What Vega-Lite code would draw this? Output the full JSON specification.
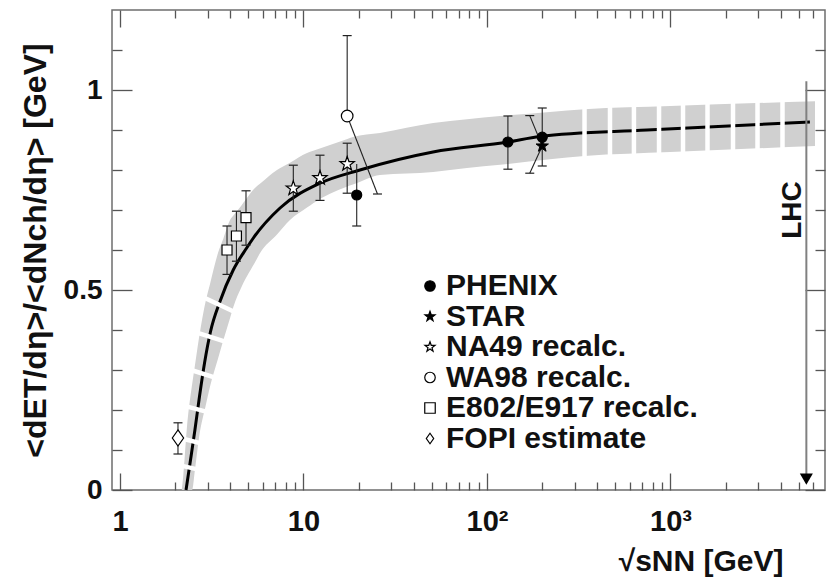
{
  "$schema": "https://vega.github.io/schema/vega-lite/v6.json",
  "width": 713,
  "height": 480,
  "autosize": "none",
  "padding": {"left": 112, "top": 10, "right": 5, "bottom": 98},
  "background": "white",
  "config": {
    "view": {"stroke": "#6e6e6e", "strokeWidth": 1.5},
    "font": "Liberation Sans",
    "axis": {
      "domain": false,
      "grid": false,
      "tickColor": "#555555",
      "tickWidth": 1.3,
      "labelFont": "Liberation Sans",
      "labelFontWeight": "bold",
      "labelColor": "#111111",
      "titleFont": "Liberation Sans",
      "titleFontWeight": "bold",
      "titleColor": "#111111"
    },
    "legend": {
      "orient": "none", "legendX": 303, "legendY": 261, "title": null,
      "labelFontSize": 30, "labelFontWeight": "bold", "labelFont": "Liberation Sans", "labelColor": "#111111",
      "labelLimit": 500, "symbolSize": 110, "symbolStrokeWidth": 1.2,
      "rowPadding": 0.5, "labelOffset": 1
    }
  },
  "datasets": {
    "band": [
      {"x": 2.17, "lo": 0, "hi": 0},
      {"x": 2.21, "lo": 0, "hi": 0.033},
      {"x": 2.31, "lo": 0, "hi": 0.15},
      {"x": 2.46, "lo": 0, "hi": 0.2575},
      {"x": 2.47, "lo": 0, "hi": 0.263},
      {"x": 2.56, "lo": 0.05, "hi": 0.311},
      {"x": 2.7, "lo": 0.133, "hi": 0.3825},
      {"x": 2.94, "lo": 0.214, "hi": 0.475},
      {"x": 3.09, "lo": 0.2575, "hi": 0.514},
      {"x": 3.42, "lo": 0.328, "hi": 0.5925},
      {"x": 3.66, "lo": 0.375, "hi": 0.629},
      {"x": 3.98, "lo": 0.43, "hi": 0.675},
      {"x": 4.15, "lo": 0.458, "hi": 0.686},
      {"x": 4.6, "lo": 0.508, "hi": 0.712},
      {"x": 5.51, "lo": 0.574, "hi": 0.7575},
      {"x": 5.79, "lo": 0.592, "hi": 0.7655},
      {"x": 7.17, "lo": 0.639, "hi": 0.8},
      {"x": 8.44, "lo": 0.675, "hi": 0.818},
      {"x": 10.45, "lo": 0.706, "hi": 0.8425},
      {"x": 11.3, "lo": 0.717, "hi": 0.848},
      {"x": 17.2, "lo": 0.758, "hi": 0.877},
      {"x": 18.6, "lo": 0.7635, "hi": 0.8825},
      {"x": 26.1, "lo": 0.7875, "hi": 0.8925},
      {"x": 50.9, "lo": 0.795, "hi": 0.9175},
      {"x": 77.8, "lo": 0.805, "hi": 0.927},
      {"x": 118, "lo": 0.813, "hi": 0.935},
      {"x": 220, "lo": 0.827, "hi": 0.945},
      {"x": 340, "lo": 0.835, "hi": 0.952},
      {"x": 1000, "lo": 0.845, "hi": 0.96},
      {"x": 6130, "lo": 0.86, "hi": 0.972}
    ],
    "curve": [
      {"x": 2.29, "y": 0},
      {"x": 2.41, "y": 0.068},
      {"x": 2.56, "y": 0.15},
      {"x": 2.71, "y": 0.233},
      {"x": 2.89, "y": 0.318},
      {"x": 3.11, "y": 0.395},
      {"x": 3.51, "y": 0.472},
      {"x": 4.14, "y": 0.55},
      {"x": 4.9, "y": 0.605},
      {"x": 5.33, "y": 0.63},
      {"x": 7.45, "y": 0.705},
      {"x": 12.3, "y": 0.767},
      {"x": 20.3, "y": 0.8},
      {"x": 50.8, "y": 0.845},
      {"x": 130, "y": 0.87},
      {"x": 194, "y": 0.884},
      {"x": 745, "y": 0.9},
      {"x": 5750, "y": 0.92}
    ],
    "gaps": [
      {"x": 2.9, "y": 0.48, "x2": 4.3, "y2": 0.443},
      {"x": 2.6, "y": 0.394, "x2": 4.05, "y2": 0.366},
      {"x": 2.44, "y": 0.3, "x2": 3.4, "y2": 0.279},
      {"x": 2.3, "y": 0.209, "x2": 3.05, "y2": 0.194},
      {"x": 2.26, "y": 0.127, "x2": 2.8, "y2": 0.116},
      {"x": 2.15, "y": 0.061, "x2": 2.68, "y2": 0.051},
      {"x": 340, "y": 0.78, "x2": 340, "y2": 1.0},
      {"x": 468, "y": 0.78, "x2": 468, "y2": 1.0},
      {"x": 632, "y": 0.78, "x2": 632, "y2": 1.0},
      {"x": 866, "y": 0.78, "x2": 866, "y2": 1.0},
      {"x": 1170, "y": 0.78, "x2": 1170, "y2": 1.0},
      {"x": 1591, "y": 0.78, "x2": 1591, "y2": 1.0},
      {"x": 2191, "y": 0.78, "x2": 2191, "y2": 1.0},
      {"x": 2980, "y": 0.78, "x2": 2980, "y2": 1.0},
      {"x": 4077, "y": 0.78, "x2": 4077, "y2": 1.0}
    ],
    "lhc": [
      {"x": 5500, "top": 1.022, "bottom": 0.035, "tri": 0.027, "ytext": 0.7, "label": "LHC"}
    ],
    "errs": [
      {"x": 130, "y": 0.802, "x2": 130, "y2": 0.935},
      {"x": 200, "y": 0.81, "x2": 200, "y2": 0.955},
      {"x": 19.5, "y": 0.66, "x2": 19.5, "y2": 0.815},
      {"x": 200, "y": 0.86, "x2": 171, "y2": 0.936},
      {"x": 200, "y": 0.86, "x2": 171, "y2": 0.792},
      {"x": 17.3, "y": 0.935, "x2": 17.3, "y2": 1.136},
      {"x": 17.3, "y": 0.935, "x2": 25.3, "y2": 0.74},
      {"x": 8.8, "y": 0.697, "x2": 8.8, "y2": 0.812},
      {"x": 12.3, "y": 0.724, "x2": 12.3, "y2": 0.837},
      {"x": 17.3, "y": 0.742, "x2": 17.3, "y2": 0.867},
      {"x": 3.83, "y": 0.539, "x2": 3.83, "y2": 0.66},
      {"x": 4.31, "y": 0.572, "x2": 4.31, "y2": 0.697},
      {"x": 4.86, "y": 0.612, "x2": 4.86, "y2": 0.748},
      {"x": 2.07, "y": 0.09, "x2": 2.07, "y2": 0.168}
    ],
    "caps": [
      {"x": 130, "y": 0.802}, {"x": 130, "y": 0.935},
      {"x": 200, "y": 0.81}, {"x": 200, "y": 0.955},
      {"x": 19.5, "y": 0.66},
      {"x": 171, "y": 0.936}, {"x": 171, "y": 0.792},
      {"x": 17.3, "y": 1.136}, {"x": 25.3, "y": 0.74},
      {"x": 8.8, "y": 0.697}, {"x": 8.8, "y": 0.812},
      {"x": 12.3, "y": 0.724}, {"x": 12.3, "y": 0.837},
      {"x": 17.3, "y": 0.742}, {"x": 17.3, "y": 0.867},
      {"x": 3.83, "y": 0.539}, {"x": 3.83, "y": 0.66},
      {"x": 4.31, "y": 0.572}, {"x": 4.31, "y": 0.697},
      {"x": 4.86, "y": 0.612}, {"x": 4.86, "y": 0.748},
      {"x": 2.07, "y": 0.09}, {"x": 2.07, "y": 0.168}
    ],
    "points": [
      {"series": "PHENIX", "x": 130, "y": 0.87},
      {"series": "PHENIX", "x": 200, "y": 0.882},
      {"series": "PHENIX", "x": 19.5, "y": 0.7375},
      {"series": "STAR", "x": 200, "y": 0.86},
      {"series": "NA49 recalc.", "x": 8.8, "y": 0.754},
      {"series": "NA49 recalc.", "x": 12.3, "y": 0.78},
      {"series": "NA49 recalc.", "x": 17.3, "y": 0.815},
      {"series": "WA98 recalc.", "x": 17.3, "y": 0.935},
      {"series": "E802/E917 recalc.", "x": 3.83, "y": 0.6},
      {"series": "E802/E917 recalc.", "x": 4.31, "y": 0.635},
      {"series": "E802/E917 recalc.", "x": 4.86, "y": 0.681},
      {"series": "FOPI estimate", "x": 2.07, "y": 0.13}
    ]
  },
  "resolve": {"axis": {"x": "independent", "y": "independent"}},
  "layer": [
    {
      "data": {"name": "band"},
      "mark": {"type": "area", "color": "#d0d0d0", "interpolate": "monotone"},
      "encoding": {
        "x": {
          "field": "x", "type": "quantitative",
          "scale": {"type": "log", "domain": [0.9045, 6950], "nice": false},
          "axis": {
            "orient": "bottom",
            "values": [1, 2, 3, 4, 5, 6, 7, 8, 9, 10, 20, 30, 40, 50, 60, 70, 80, 90, 100, 200, 300, 400, 500, 600, 700, 800, 900, 1000, 2000, 3000, 4000, 5000, 6000],
            "labelExpr": "datum.value == 1 ? '1' : datum.value == 10 ? '10' : datum.value == 100 ? '10²' : datum.value == 1000 ? '10³' : ''",
            "tickSize": {"condition": {"test": "datum.value == 1 || datum.value == 10 || datum.value == 100 || datum.value == 1000", "value": -17}, "value": -8},
            "labelFontSize": 29,
            "labelBaseline": "alphabetic",
            "labelPadding": 57,
            "labelFlush": false,
            "labelOverlap": false,
            "title": "√sNN [GeV]",
            "titleFontSize": 30,
            "titleX": 671,
            "titleY": 80,
            "titleAlign": "right",
            "titleBaseline": "alphabetic"
          }
        },
        "y": {
          "field": "lo", "type": "quantitative",
          "scale": {"domain": [0, 1.2], "nice": false, "zero": false},
          "axis": {
            "orient": "left",
            "values": [0, 0.1, 0.2, 0.3, 0.4, 0.5, 0.6, 0.7, 0.8, 0.9, 1, 1.1],
            "labelExpr": "datum.value == 0 ? '0' : datum.value == 0.5 ? '0.5' : datum.value == 1 ? '1' : ''",
            "tickSize": {"condition": {"test": "datum.value == 0 || datum.value == 0.5 || datum.value == 1", "value": -20}, "value": -10},
            "labelFontSize": 28,
            "labelPadding": 30,
            "labelFlush": false,
            "labelOverlap": false,
            "title": "<dET/dη>/<dNch/dη> [GeV]",
            "titleFontSize": 32,
            "titleX": -60
          }
        },
        "y2": {"field": "hi"}
      }
    },
    {
      "data": {"name": "curve"},
      "mark": {"type": "line", "color": "black", "strokeWidth": 3, "interpolate": "monotone"},
      "encoding": {
        "x": {"field": "x", "type": "quantitative", "axis": null},
        "y": {"field": "y", "type": "quantitative", "axis": null}
      }
    },
    {
      "data": {"name": "gaps"},
      "mark": {"type": "rule", "color": "white", "strokeWidth": 4.5},
      "encoding": {
        "x": {"field": "x", "type": "quantitative", "axis": null},
        "y": {"field": "y", "type": "quantitative", "axis": null},
        "x2": {"field": "x2"},
        "y2": {"field": "y2"}
      }
    },
    {
      "data": {"name": "lhc"},
      "mark": {"type": "rule", "color": "#808080", "strokeWidth": 2},
      "encoding": {
        "x": {
          "field": "x", "type": "quantitative",
          "axis": {
            "orient": "top",
            "values": [1, 2, 3, 4, 5, 6, 7, 8, 9, 10, 20, 30, 40, 50, 60, 70, 80, 90, 100, 200, 300, 400, 500, 600, 700, 800, 900, 1000, 2000, 3000, 4000, 5000, 6000],
            "labels": false,
            "title": null,
            "tickSize": {"condition": {"test": "datum.value == 1 || datum.value == 10 || datum.value == 100 || datum.value == 1000", "value": -17}, "value": -8}
          }
        },
        "y": {
          "field": "top", "type": "quantitative",
          "axis": {
            "orient": "right",
            "values": [0, 0.1, 0.2, 0.3, 0.4, 0.5, 0.6, 0.7, 0.8, 0.9, 1, 1.1],
            "labels": false,
            "title": null,
            "tickSize": {"condition": {"test": "datum.value == 0 || datum.value == 0.5 || datum.value == 1", "value": -20}, "value": -10}
          }
        },
        "y2": {"field": "bottom"}
      }
    },
    {
      "data": {"name": "lhc"},
      "mark": {"type": "point", "shape": "triangle-down", "filled": true, "color": "black", "size": 170, "opacity": 1},
      "encoding": {
        "x": {"field": "x", "type": "quantitative", "axis": null},
        "y": {"field": "tri", "type": "quantitative", "axis": null}
      }
    },
    {
      "data": {"name": "lhc"},
      "mark": {"type": "text", "angle": 270, "fontSize": 28, "fontWeight": "bold", "font": "Liberation Sans", "color": "#111111", "align": "center", "baseline": "alphabetic", "dy": -5},
      "encoding": {
        "x": {"field": "x", "type": "quantitative", "axis": null},
        "y": {"field": "ytext", "type": "quantitative", "axis": null},
        "text": {"field": "label"}
      }
    },
    {
      "data": {"name": "errs"},
      "mark": {"type": "rule", "color": "#222222", "strokeWidth": 1.1},
      "encoding": {
        "x": {"field": "x", "type": "quantitative", "axis": null},
        "y": {"field": "y", "type": "quantitative", "axis": null},
        "x2": {"field": "x2"},
        "y2": {"field": "y2"}
      }
    },
    {
      "data": {"name": "caps"},
      "mark": {"type": "tick", "orient": "horizontal", "color": "#222222", "size": 9, "thickness": 1.2, "opacity": 1},
      "encoding": {
        "x": {"field": "x", "type": "quantitative", "axis": null},
        "y": {"field": "y", "type": "quantitative", "axis": null}
      }
    },
    {
      "data": {"name": "points"},
      "transform": [{"filter": {"field": "series", "oneOf": ["PHENIX", "E802/E917 recalc."]}}],
      "mark": {"type": "point", "filled": true, "strokeWidth": 1.2, "opacity": 1, "size": 100},
      "encoding": {
        "x": {"field": "x", "type": "quantitative", "axis": null},
        "y": {"field": "y", "type": "quantitative", "axis": null},
        "shape": {
          "field": "series", "type": "nominal",
          "scale": {
            "domain": ["PHENIX", "STAR", "NA49 recalc.", "WA98 recalc.", "E802/E917 recalc.", "FOPI estimate"],
            "range": ["circle", "M0,-1L0.235,-0.324L0.951,-0.309L0.38,0.124L0.588,0.809L0,0.4L-0.588,0.809L-0.38,0.124L-0.951,-0.309L-0.235,-0.324Z", "M0,-1L0.235,-0.324L0.951,-0.309L0.38,0.124L0.588,0.809L0,0.4L-0.588,0.809L-0.38,0.124L-0.951,-0.309L-0.235,-0.324Z", "circle", "square", "M0,-1L0.7,0L0,1L-0.7,0Z"]
          }
        },
        "fill": {
          "field": "series", "type": "nominal",
          "scale": {
            "domain": ["PHENIX", "STAR", "NA49 recalc.", "WA98 recalc.", "E802/E917 recalc.", "FOPI estimate"],
            "range": ["black", "black", "white", "white", "white", "white"]
          }
        },
        "stroke": {
          "field": "series", "type": "nominal",
          "scale": {
            "domain": ["PHENIX", "STAR", "NA49 recalc.", "WA98 recalc.", "E802/E917 recalc.", "FOPI estimate"],
            "range": ["black", "black", "black", "black", "black", "black"]
          }
        }
      }
    },
    {
      "data": {"name": "points"},
      "transform": [{"filter": {"field": "series", "oneOf": ["WA98 recalc."]}}],
      "mark": {"type": "point", "filled": true, "strokeWidth": 1.2, "opacity": 1, "size": 135},
      "encoding": {
        "x": {"field": "x", "type": "quantitative", "axis": null},
        "y": {"field": "y", "type": "quantitative", "axis": null},
        "shape": {"field": "series", "type": "nominal"},
        "fill": {"field": "series", "type": "nominal"},
        "stroke": {"field": "series", "type": "nominal"}
      }
    },
    {
      "data": {"name": "points"},
      "transform": [{"filter": {"field": "series", "oneOf": ["STAR"]}}],
      "mark": {"type": "point", "filled": true, "strokeWidth": 1, "opacity": 1, "size": 170},
      "encoding": {
        "x": {"field": "x", "type": "quantitative", "axis": null},
        "y": {"field": "y", "type": "quantitative", "axis": null},
        "shape": {"field": "series", "type": "nominal"},
        "fill": {"field": "series", "type": "nominal"},
        "stroke": {"field": "series", "type": "nominal"}
      }
    },
    {
      "data": {"name": "points"},
      "transform": [{"filter": {"field": "series", "oneOf": ["NA49 recalc."]}}],
      "mark": {"type": "point", "filled": true, "strokeWidth": 1.2, "opacity": 1, "size": 225},
      "encoding": {
        "x": {"field": "x", "type": "quantitative", "axis": null},
        "y": {"field": "y", "type": "quantitative", "axis": null},
        "shape": {"field": "series", "type": "nominal"},
        "fill": {"field": "series", "type": "nominal"},
        "stroke": {"field": "series", "type": "nominal"}
      }
    },
    {
      "data": {"name": "points"},
      "transform": [{"filter": {"field": "series", "oneOf": ["FOPI estimate"]}}],
      "mark": {"type": "point", "filled": true, "strokeWidth": 1.2, "opacity": 1, "size": 260},
      "encoding": {
        "x": {"field": "x", "type": "quantitative", "axis": null},
        "y": {"field": "y", "type": "quantitative", "axis": null},
        "shape": {"field": "series", "type": "nominal"},
        "fill": {"field": "series", "type": "nominal"},
        "stroke": {"field": "series", "type": "nominal"}
      }
    }
  ]
}
